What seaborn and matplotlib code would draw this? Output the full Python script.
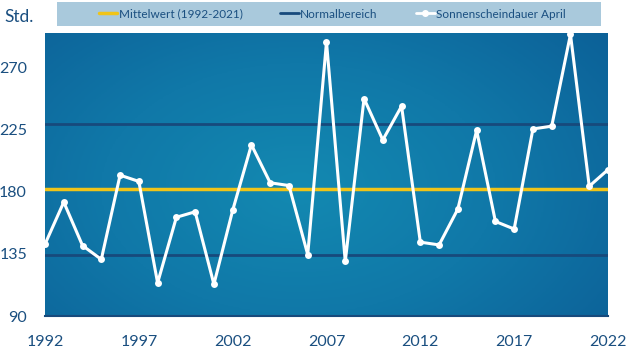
import numpy as np
import pandas as pd
import matplotlib.pyplot as plt
from matplotlib.lines import Line2D
from matplotlib.patches import Rectangle
import seaborn as sb

# Sonnenscheindauer April, Stunden
years = list(range(1992, 2023))
hours = [142, 172.5, 141, 131, 192, 187.5, 114, 161.5, 165.5, 113,
         166.5, 214, 186.5, 184.5, 134.5, 288.5, 129.5, 247.5, 217.5, 242,
         143.5, 141.5, 167.5, 224.5, 158.5, 153, 225.5, 227.5, 294, 184,
         196]
mean_value = 182
normal_range = [134.3, 229]
y_ticks = [90, 135, 180, 225, 270]
x_ticks = [1992, 1997, 2002, 2007, 2012, 2017, 2022]

dark = "#1a4f80"
navy = "#174a7c"
gold = "#f0c419"

df = pd.DataFrame({"Jahr": years, "Std": hours})

sb.set_style("white")
plt.rcParams["font.family"] = ["Lato", "DejaVu Sans"]

fig = plt.figure(figsize=(6.32, 3.55), dpi=100)
ax = fig.add_axes([45/632, 1 - 316/355, 563/632, 283/355])

# Hintergrund mit Verlauf
gx, gy = np.meshgrid(np.linspace(0, 1, 200), np.linspace(0, 1, 120))
r = np.sqrt(((gx - 0.45) / 0.75) ** 2 + ((gy - 0.45) / 0.95) ** 2)
grad = np.clip(r, 0, 1)
cmap = sb.blend_palette(["#1389b1", "#1078a8", "#0c6198"], as_cmap=True)
ax.imshow(grad, cmap=cmap, extent=[0, 1, 0, 1], transform=ax.transAxes,
          aspect="auto", zorder=0, origin="lower")

for v in normal_range:
    ax.axhline(v, color=navy, lw=2, zorder=2)
ax.axhline(mean_value, color=gold, lw=2.5, zorder=3)

sb.lineplot(data=df, x="Jahr", y="Std", ax=ax, color="white", lw=2.2,
            marker="o", markersize=5, markeredgewidth=0, zorder=4,
            clip_on=False)

ax.set_xlim(1992, 2022)
ax.set_ylim(90, 295)
ax.set_xticks(range(1992, 2023), minor=True)
ax.set_xticks(x_ticks)
ax.set_yticks(y_ticks)
ax.set_xlabel("")
ax.set_ylabel("")
for s in ["top", "right", "left"]:
    ax.spines[s].set_visible(False)
ax.spines["bottom"].set_color(navy)
ax.spines["bottom"].set_linewidth(1.5)
ax.tick_params(axis="x", which="both", direction="out", length=5, width=1.2,
               color=navy, labelcolor=dark, labelsize=11.5, pad=9)
ax.tick_params(axis="y", direction="out", length=5, width=1.2, color=navy,
               labelcolor=dark, labelsize=11.5, pad=8)

fig.text(4/632, 1 - 17/355, "Std.", color=dark, fontsize=12.5, va="center")

# Legendenkasten
fig.patches.append(Rectangle((57/632, 1 - 26/355), 544/632, 24/355,
                             transform=fig.transFigure, facecolor="#a9c9dc",
                             edgecolor="none", zorder=0))
handles = [
    Line2D([], [], color=gold, lw=2.5),
    Line2D([], [], color=navy, lw=2),
    Line2D([], [], color="white", lw=2, marker="o", markersize=4),
]
labels = ["Mittelwert (1992-2021)", "Normalbereich", "Sonnenscheindauer April"]
leg = fig.legend(handles, labels, ncol=3, loc="center",
                 bbox_to_anchor=(332/632, 1 - 14/355),
                 fontsize=8.5, frameon=False, handlelength=1.6,
                 handletextpad=0.1, columnspacing=3.2, borderaxespad=0,
                 labelcolor=dark)

fig.savefig("out.png", dpi=100)
